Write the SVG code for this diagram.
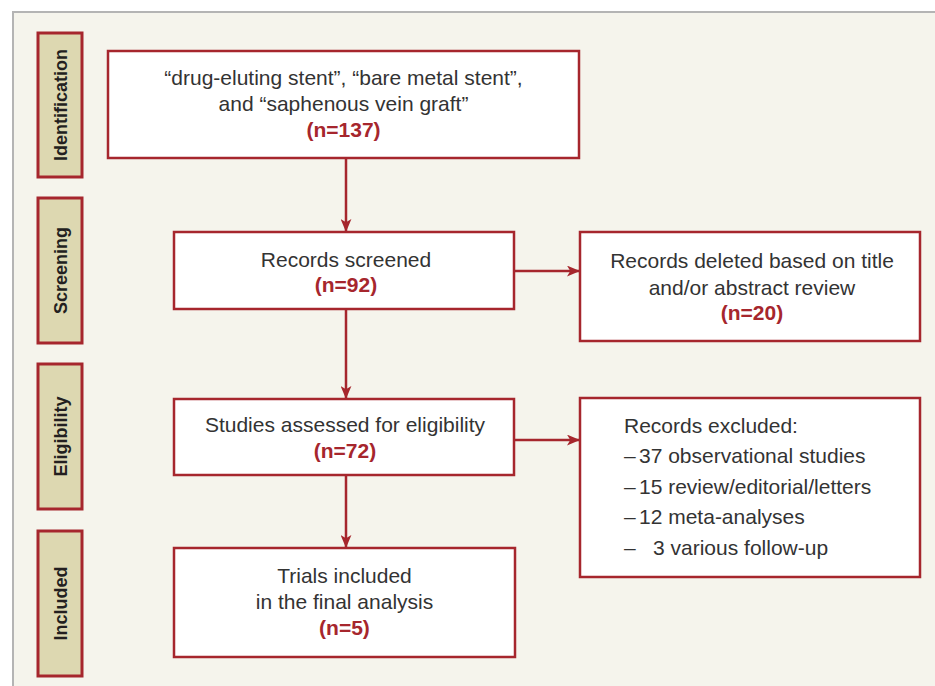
<svg xmlns="http://www.w3.org/2000/svg" width="935" height="686" viewBox="0 0 935 686">
<style>
.panel{fill:#f5f4ec;stroke:#b4b4b4;stroke-width:2}
.lab rect{fill:#ddd8b1;stroke:#a6262d;stroke-width:3}
.lab text{font-family:"Liberation Sans",Arial,sans-serif;font-weight:bold;font-size:18px;fill:#231f20;text-anchor:middle}
.box rect{fill:#ffffff;stroke:#a6262d;stroke-width:2.5}
.box text{font-family:"Liberation Sans",Arial,sans-serif;font-size:21px;fill:#333333}
.box text.c{text-anchor:middle}
.box text.n{font-weight:bold;fill:#a6262d}
.conn line{stroke:#a6262d;stroke-width:2.5}
</style>
<defs>
<marker id="ah" viewBox="0 0 12 10" refX="12" refY="5" markerWidth="13" markerHeight="11" markerUnits="userSpaceOnUse" orient="auto">
<path d="M0,0 L12,5 L0,10 L3,5 Z" fill="#a6262d"/>
</marker>
</defs>
<rect class="panel" x="13" y="12" width="940" height="700"/>

<g id="label-identification" class="lab">
<rect x="38" y="33" width="44" height="144"/>
<text transform="translate(66.5,105) rotate(-90)">Identification</text>
</g>
<g id="label-screening" class="lab">
<rect x="38" y="198" width="44" height="145"/>
<text transform="translate(66.5,270.5) rotate(-90)">Screening</text>
</g>
<g id="label-eligibility" class="lab">
<rect x="38" y="364" width="44" height="145"/>
<text transform="translate(66.5,436.5) rotate(-90)">Eligibility</text>
</g>
<g id="label-included" class="lab">
<rect x="38" y="531" width="44" height="145"/>
<text transform="translate(66.5,603.5) rotate(-90)">Included</text>
</g>

<g id="connectors" class="conn">
<line x1="346" y1="158" x2="346" y2="232" marker-end="url(#ah)"/>
<line x1="346" y1="309" x2="346" y2="399" marker-end="url(#ah)"/>
<line x1="346" y1="475" x2="346" y2="548" marker-end="url(#ah)"/>
<line x1="514" y1="271" x2="580" y2="271" marker-end="url(#ah)"/>
<line x1="514" y1="440" x2="580" y2="440" marker-end="url(#ah)"/>
</g>

<g id="node-identification" class="box">
<rect x="108" y="51" width="471" height="107"/>
<text class="c" x="343.5" y="85">“drug-eluting stent”, “bare metal stent”,</text>
<text class="c" x="343.5" y="111">and “saphenous vein graft”</text>
<text class="c n" x="343.5" y="137">(n=137)</text>
</g>

<g id="node-screened" class="box">
<rect x="174" y="232" width="340" height="77"/>
<text class="c" x="346" y="267">Records screened</text>
<text class="c n" x="346" y="292">(n=92)</text>
</g>

<g id="node-deleted" class="box">
<rect x="580" y="232" width="340" height="109"/>
<text class="c" x="752" y="268">Records deleted based on title</text>
<text class="c" x="752" y="295">and/or abstract review</text>
<text class="c n" x="752" y="320">(n=20)</text>
</g>

<g id="node-assessed" class="box">
<rect x="174" y="399" width="340" height="76"/>
<text class="c" x="345" y="432">Studies assessed for eligibility</text>
<text class="c n" x="345" y="458">(n=72)</text>
</g>

<g id="node-excluded" class="box">
<rect x="580" y="398" width="340" height="179"/>
<text x="624" y="433">Records excluded:</text>
<text x="624" y="463">–<tspan x="639">37 observational studies</tspan></text>
<text x="624" y="494">–<tspan x="639">15 review/editorial/letters</tspan></text>
<text x="624" y="524">–<tspan x="639">12 meta-analyses</tspan></text>
<text x="624" y="555">–<tspan x="653">3 various follow-up</tspan></text>
</g>

<g id="node-included" class="box">
<rect x="174" y="548" width="341" height="109"/>
<text class="c" x="344.5" y="583">Trials included</text>
<text class="c" x="344.5" y="609">in the final analysis</text>
<text class="c n" x="344.5" y="635">(n=5)</text>
</g>
</svg>
